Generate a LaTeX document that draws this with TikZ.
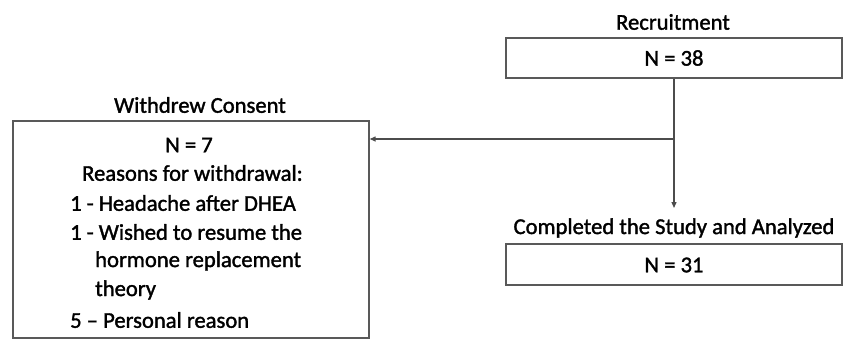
\documentclass[tikz,border=0pt]{standalone}
\usepackage{fontspec}
\setmainfont{Carlito}[FakeBold=1.5]
\usetikzlibrary{arrows.meta}
\begin{document}
\begin{tikzpicture}[x=1pt,y=-1pt,
  box/.style={draw=black!65,line width=1.4pt,inner sep=0pt},
  lbl/.style={font=\fontsize{22.6}{26}\selectfont,inner sep=0pt},
  ln/.style={lbl,anchor=west},
  conn/.style={draw=black!70,line width=1.3pt,-{Triangle[length=6pt,width=5pt]}}]
\useasboundingbox (0,0) rectangle (843,341);
\node[box,minimum width=336pt,minimum height=40pt] (rec) at (674,58) {};
\node[lbl] (recn) at (674,58) {N = 38};
\node[lbl] (rect) at (673,22) {Recruitment};
\node[box,minimum width=336pt,minimum height=41pt] (comp) at (674,264.5) {};
\node[lbl] (compn) at (674,265) {N = 31};
\node[lbl] (compt) at (674,228) {Completed the Study and Analyzed};
\node[box,minimum width=356pt,minimum height=217pt] (wd) at (191,229.5) {};
\node[lbl] (wdt) at (200,105) {Withdrew Consent};
\node[lbl] (l1) at (189,145) {N = 7};
\node[ln] (l2) at (82,173) {Reasons for withdrawal:};
\node[ln] (l3) at (70,203) {1 - Headache after DHEA};
\node[ln] (l4) at (70,232) {1 - Wished to resume the};
\node[ln] (l5) at (95,261) {hormone replacement};
\node[ln] (l6) at (95,290) {theory};
\node[ln] (l7) at (70,320) {5 – Personal reason};
\coordinate (br) at (674,139);
\coordinate (tip) at (674,208);
\draw[conn] (rec.south -| br) -- (br) -- (tip);
\draw[conn] (br) -- (wd.east |- br);
\end{tikzpicture}
\end{document}
